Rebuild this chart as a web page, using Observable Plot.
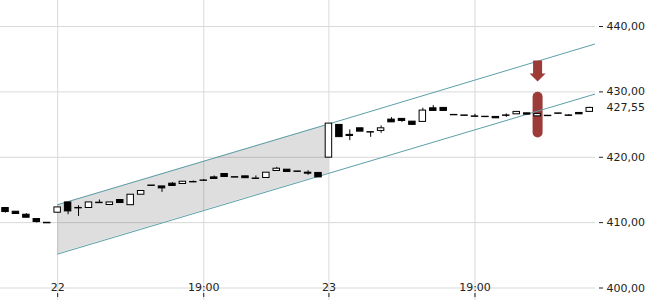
<!DOCTYPE html>
<html><head><meta charset="utf-8">
<script src="https://cdn.jsdelivr.net/npm/d3@7"></script>
<script src="https://cdn.jsdelivr.net/npm/@observablehq/plot@0.6"></script>
<style>body{margin:0;background:#fff;font-family:"DejaVu Sans",sans-serif}</style>
</head><body><div id="chart"></div>
<script>
// Candles (index-based trading time)
const open  = [412.24,411.67,411.21,410.55,409.98,411.52,413.09,412.25,412.24,413.05,412.70,413.46,412.67,414.27,415.68,415.54,415.96,415.91,416.22,416.45,416.92,417.44,416.95,417.08,416.75,416.83,417.90,418.10,417.83,417.64,417.60,419.94,424.95,423.42,424.43,423.84,424.03,425.76,425.87,425.45,425.41,427.49,427.55,426.48,426.40,426.25,426.20,426.17,426.40,426.57,426.72,426.26,426.35,426.71,426.40,426.78,426.94];
const high  = [412.30,411.70,411.36,410.55,409.98,412.33,413.09,412.59,413.09,413.46,413.09,413.46,414.27,414.84,415.68,415.54,416.11,416.26,416.37,416.57,417.14,417.44,416.95,417.08,417.14,417.64,418.45,418.10,417.83,417.95,417.60,425.15,424.95,424.18,424.43,423.84,424.79,426.06,425.87,425.45,427.49,427.90,427.55,426.48,426.40,426.57,426.20,426.17,426.63,426.94,426.72,426.63,426.35,426.71,426.50,426.78,427.64];
const low   = [411.47,411.30,410.75,409.94,409.90,411.52,411.21,410.95,412.24,412.98,412.70,413.00,412.67,414.27,415.62,414.63,415.61,415.91,416.11,416.30,416.68,416.98,416.89,416.80,416.69,416.83,417.90,417.75,417.77,417.23,416.92,419.94,423.08,422.54,423.92,423.05,423.66,425.34,425.34,424.95,425.41,427.09,427.09,426.42,426.34,426.17,426.14,425.96,426.11,426.57,426.52,426.26,426.29,426.65,426.30,426.57,426.94];
const close = [411.62,411.32,410.75,410.09,409.90,412.33,411.72,412.18,413.09,412.98,413.09,413.00,414.27,414.84,415.62,415.24,415.61,416.26,416.16,416.40,416.68,416.98,416.89,416.80,416.69,417.64,418.25,417.75,417.77,417.49,416.92,425.15,423.08,423.26,423.92,423.78,424.43,425.34,425.56,424.95,427.14,427.09,427.09,426.42,426.34,426.19,426.14,425.96,426.34,426.94,426.52,426.63,426.29,426.65,426.34,426.57,427.55];

// Axis ticks
const xTickIdx = [5, 19, 31, 45];
const xTickLabels = ["22", "19:00", "23", "19:00"];
const yTicks = [400, 410, 420, 430, 440];

// Trend channel (read at candle index positions)
const channelIdx   = [5, 31, 56.55];
const channelUpper = [412.74, 425.10, 437.35];
const channelLower = [405.19, 417.55, 429.69];
const shadedUntil = 31;

// Signal marker
const signalIdx = [51];
const signalArrowPrice = [433.2];
const signalPillLow = [423.72];
const signalPillHigh = [429.17];

const lastClose = close[close.length - 1];

const candles = open.map((o, i) => ({i, o, h: high[i], l: low[i], c: close[i]}));
const channel = channelIdx.map((i, k) => ({i, upper: channelUpper[k], lower: channelLower[k]}));
const signals = signalIdx.map((i, k) => ({i, arrow: signalArrowPrice[k], lo: signalPillLow[k], hi: signalPillHigh[k]}));

const fmt = d => d.toFixed(2).replace(".", ",");
const red = "#9c3b38";
const teal = "#5c9fa8";

const arrowSymbol = {
  draw(ctx) {
    ctx.moveTo(-4.5, -10.5);
    ctx.lineTo(4.5, -10.5);
    ctx.lineTo(4.5, 2.5);
    ctx.lineTo(8, 2.5);
    ctx.lineTo(0, 10.5);
    ctx.lineTo(-8, 2.5);
    ctx.lineTo(-4.5, 2.5);
    ctx.closePath();
  }
};

const chart = Plot.plot({
  width: 650,
  height: 300,
  marginTop: 0,
  marginBottom: 0,
  marginLeft: 0,
  marginRight: 55,
  style: {fontFamily: "DejaVu Sans, sans-serif", fontSize: "11px", color: "#222", background: "#fff"},
  x: {domain: [-0.48, 56.55], axis: null, label: null},
  y: {domain: [398.09, 443.98], axis: null, label: null},
  marks: [
    Plot.gridY(yTicks, {stroke: "#d9d9d9", strokeOpacity: 1}),
    Plot.gridX(xTickIdx, {stroke: "#d9d9d9", strokeOpacity: 1}),
    Plot.areaY(channel.filter(d => d.i <= shadedUntil), {x: "i", y1: "lower", y2: "upper", fill: "#000", fillOpacity: 0.13}),
    Plot.ruleX(signals, {x: "i", y1: "lo", y2: "hi", stroke: red, strokeWidth: 10, strokeLinecap: "round"}),
    Plot.line(channel, {x: "i", y: "upper", stroke: teal, strokeWidth: 1, clip: true}),
    Plot.line(channel, {x: "i", y: "lower", stroke: teal, strokeWidth: 1, clip: true}),
    Plot.dot(signals, {x: "i", y: "arrow", symbol: arrowSymbol, fill: red, stroke: "none", r: 5}),
    Plot.ruleX(candles, {x: "i", y1: "l", y2: "h", stroke: "#000", strokeWidth: 1}),
    Plot.rect(candles, {
      x1: d => d.i - 0.31, x2: d => d.i + 0.31,
      y1: "o", y2: "c",
      fill: d => d.c > d.o ? "#fff" : "#000",
      stroke: "#000", strokeWidth: 1
    }),
    Plot.axisX(xTickIdx, {anchor: "bottom", tickSize: 4, dy: -7, tickPadding: -7, lineAnchor: "bottom", label: null,
      tickFormat: d => xTickLabels[xTickIdx.indexOf(d)], fontSize: 11}),
    Plot.axisY(yTicks, {anchor: "right", tickSize: 4, dx: 3, tickPadding: 4, tickFormat: fmt, fontSize: 11, label: null}),
    Plot.text([lastClose], {y: d => d, text: d => fmt(d), frameAnchor: "right", dx: 11, textAnchor: "start", fontSize: 11})
  ]
});
document.getElementById("chart").appendChild(chart);
</script>
</body></html>
